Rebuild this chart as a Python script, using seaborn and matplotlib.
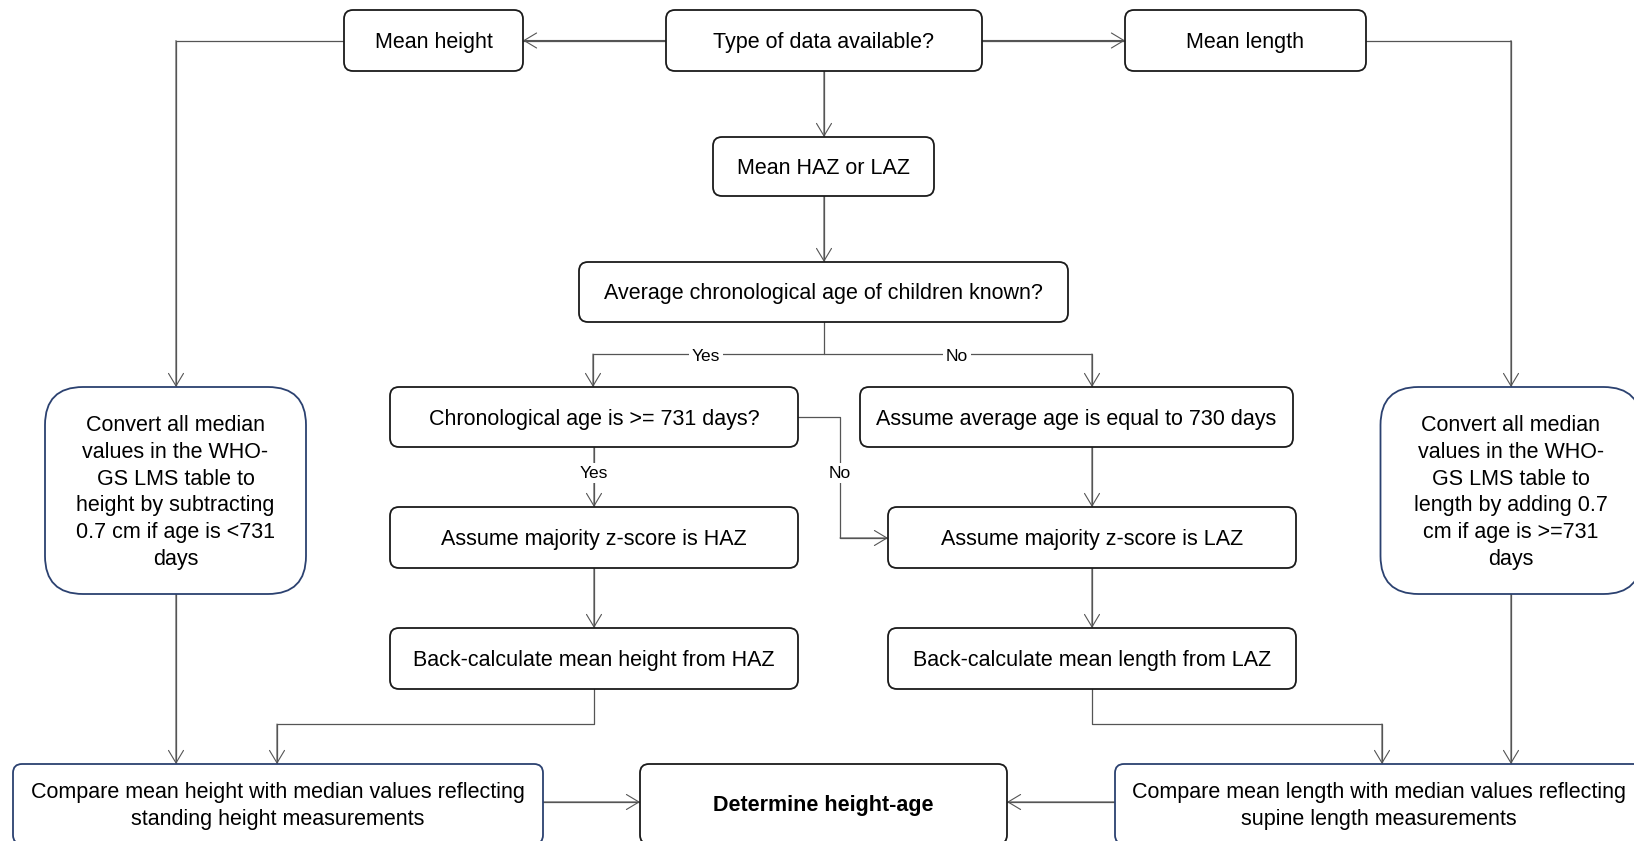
import matplotlib
matplotlib.use("Agg")
import matplotlib.pyplot as plt
from matplotlib.patches import FancyBboxPatch
import pandas as pd
import seaborn as sns

# node ids and their texts
node_ids = ["mean_height", "type", "mean_length", "haz_laz", "avg_age",
            "chrono", "assume730", "haz", "laz", "back_haz", "back_laz",
            "conv_left", "conv_right", "compare_h", "determine", "compare_l"]
node_texts = [
    "Mean height",
    "Type of data available?",
    "Mean length",
    "Mean HAZ or LAZ",
    "Average chronological age of children known?",
    "Chronological age is >= 731 days?",
    "Assume average age is equal to 730 days",
    "Assume majority z-score is HAZ",
    "Assume majority z-score is LAZ",
    "Back-calculate mean height from HAZ",
    "Back-calculate mean length from LAZ",
    "Convert all median\nvalues in the WHO-\nGS LMS table to\nheight by subtracting\n0.7 cm if age is <731\ndays",
    "Convert all median\nvalues in the WHO-\nGS LMS table to\nlength by adding 0.7\ncm if age is >=731\ndays",
    "Compare mean height with median values reflecting\nstanding height measurements",
    "Determine height-age",
    "Compare mean length with median values reflecting\nsupine length measurements",
]
branch_labels = ["Yes", "No", "Yes", "No"]

# layout in pixels: centre x, centre y, width, height
layout = {
    "mean_height": (433.5, 40.5, 179, 61),
    "type": (824, 40.5, 316, 61),
    "mean_length": (1245.5, 40.5, 241, 61),
    "haz_laz": (823.5, 166.5, 221, 59),
    "avg_age": (823.5, 292, 489, 60),
    "chrono": (594, 417, 408, 60),
    "assume730": (1076.5, 417, 433, 60),
    "haz": (594, 537.5, 408, 61),
    "laz": (1092, 537.5, 408, 61),
    "back_haz": (594, 658.5, 408, 61),
    "back_laz": (1092, 658.5, 408, 61),
    "conv_left": (175.5, 490.5, 261, 207),
    "conv_right": (1511, 490.5, 261, 207),
    "compare_h": (278, 804, 530, 80),
    "determine": (823.5, 804, 367, 80),
    "compare_l": (1379, 804, 528, 80),
}
blue_nodes = {"conv_left", "conv_right", "compare_h", "compare_l"}
big_round = {"conv_left", "conv_right"}
bottom_row = {"compare_h", "determine", "compare_l"}

# connector paths (last point gets an arrowhead when arrow is True)
paths = [
    ([(666, 40.5), (523, 40.5)], True),
    ([(982, 40.5), (1125, 40.5)], True),
    ([(344, 40.5), (176, 40.5), (176, 387)], True),
    ([(1366, 40.5), (1511, 40.5), (1511, 387)], True),
    ([(824, 71), (824, 137)], True),
    ([(824, 196), (824, 262)], True),
    ([(824, 322), (824, 354)], False),
    ([(824, 354), (593, 354), (593, 387)], True),
    ([(824, 354), (1092, 354), (1092, 387)], True),
    ([(594, 447), (594, 507)], True),
    ([(798, 417), (840, 417), (840, 538), (888, 538)], True),
    ([(1092, 447), (1092, 507)], True),
    ([(594, 568), (594, 628)], True),
    ([(1092, 568), (1092, 628)], True),
    ([(594, 689), (594, 724), (277, 724), (277, 764)], True),
    ([(176, 594), (176, 764)], True),
    ([(1092, 689), (1092, 724), (1382, 724), (1382, 764)], True),
    ([(1511, 594), (1511, 764)], True),
    ([(543, 802), (640, 802)], True),
    ([(1115, 802), (1007, 802)], True),
]
label_pos = [(706, 356), (957, 356), (594, 473), (840, 473)]

sns.set_theme(style="white")
plt.rcParams["font.family"] = ["Liberation Sans", "DejaVu Sans"]

W, H = 1634, 841
fig = plt.figure(figsize=(W / 100, H / 100), dpi=100)
ax = fig.add_axes([0, 0, 1, 1])
ax.set_xlim(0, W)
ax.set_ylim(H, 0)
ax.axis("off")

line_color = "#555555"

rows = []
for i, (pts, _) in enumerate(paths):
    for k, (x, y) in enumerate(pts):
        rows.append({"path": i, "order": k, "x": x, "y": y})
df = pd.DataFrame(rows)
sns.lineplot(data=df, x="x", y="y", units="path", estimator=None, sort=False,
             color=line_color, linewidth=0.9, ax=ax, legend=False)

for pts, arrow in paths:
    if arrow:
        ax.annotate("", xy=pts[-1], xytext=pts[-2],
                    arrowprops=dict(arrowstyle="->,head_length=0.5,head_width=0.3",
                                    color=line_color, lw=0.8, shrinkA=0, shrinkB=0,
                                    mutation_scale=18))

for nid, txt in zip(node_ids, node_texts):
    cx, cy, w, h = layout[nid]
    r = 38 if nid in big_round else 9
    ec = "#2b4170" if nid in blue_nodes else "#1a1a1a"
    box = FancyBboxPatch((cx - w / 2, cy - h / 2), w, h,
                         boxstyle=f"round,pad=0,rounding_size={r}",
                         facecolor="white", edgecolor=ec, linewidth=1.3, zorder=3)
    ax.add_patch(box)
    ty = 806 if nid in bottom_row else cy + 2
    ax.text(cx, ty, txt, ha="center", va="center", fontsize=15.5,
            fontweight="bold" if nid == "determine" else "normal",
            linespacing=1.36, color="black", zorder=4)

for lab, (x, y) in zip(branch_labels, label_pos):
    ax.text(x, y, lab, ha="center", va="center", fontsize=12.5, color="black",
            zorder=4, bbox=dict(facecolor="white", edgecolor="none", pad=2))

fig.savefig("out.png", dpi=100)
